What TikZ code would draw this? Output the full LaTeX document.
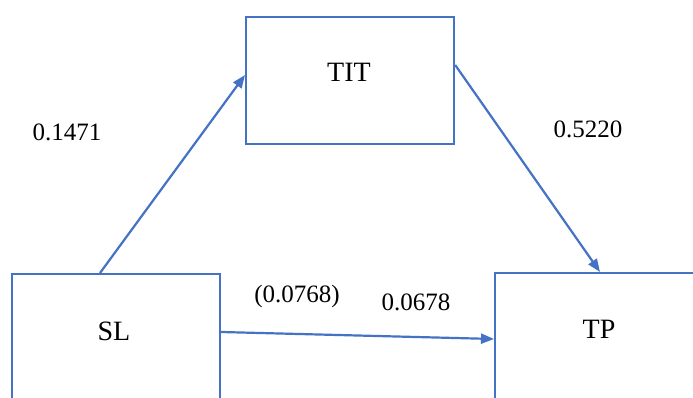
\documentclass[tikz,border=0pt]{standalone}
\usepackage{fontspec}
\setmainfont{Liberation Serif}
\usetikzlibrary{arrows.meta,calc}
\definecolor{pathblue}{RGB}{68,114,196}
\begin{document}
\begin{tikzpicture}[x=1pt,y=-1pt,
  varbox/.style={draw=pathblue,line width=2.2pt,fill=none,inner sep=0pt,anchor=north west},
  varlabel/.style={font=\fontsize{28}{32}\selectfont,anchor=base,inner sep=0pt},
  coef/.style={font=\fontsize{25}{30}\selectfont,anchor=base,inner sep=0pt},
  path/.style={draw=pathblue,line width=2.2pt,-{Triangle[length=13pt,width=10pt]}}]
\useasboundingbox (0,0) rectangle (693,398);
\clip (0,0) rectangle (693,398);
\fill[white] (0,0) rectangle (693,398);
% variable boxes
\node[varbox,minimum width=208pt,minimum height=127pt] (tit) at (245,16) {};
\node[varbox,minimum width=208pt,minimum height=160pt] (sl) at (11,273) {};
\node[varbox,minimum width=220pt,minimum height=160pt] (tp) at (494,272) {};
% box labels
\node[varlabel] (titlabel) at (349,82) {TIT};
\node[varlabel] (sllabel) at (114,340) {SL};
\node[varlabel] (tplabel) at (599,338) {TP};
% paths
\draw[path] ($(sl.north west)+(89,0)$) -- ($(tit.north west)+(0,59)$);
\draw[path] ($(tit.north east)+(0,49)$) -- ($(tp.north west)+(106,0)$);
\draw[path] ($(sl.north east)+(0,59)$) -- ($(tp.north west)+(0,67)$);
% coefficients
\node[coef] (a) at (67,141) {0.1471};
\node[coef] (b) at (588,138) {0.5220};
\node[coef] (c) at (297,302) {(0.0768)};
\node[coef] (cp) at (416,310) {0.0678};
\end{tikzpicture}
\end{document}
